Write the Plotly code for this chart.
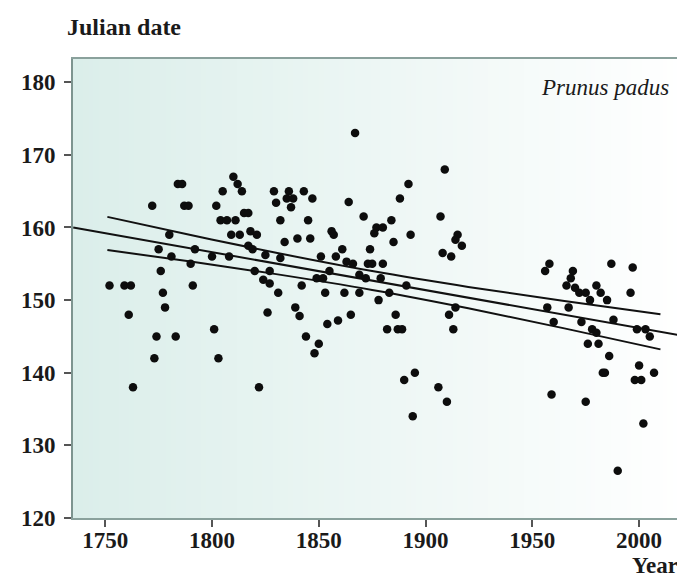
import plotly.graph_objects as go

# ---- data ----
years = [1784, 1786, 1772, 1787, 1789, 1802, 1805, 1810, 1812, 1814, 1815, 1817,
         1804, 1807, 1811, 1809, 1813, 1780, 1775, 1781, 1792, 1800, 1808, 1790,
         1776, 1752, 1759, 1762, 1791, 1777, 1778, 1761, 1801, 1774, 1783, 1773,
         1803, 1763,
         1867, 1892, 1888, 1864, 1829, 1836, 1843, 1835, 1838, 1830, 1837, 1847,
         1832, 1845, 1871, 1884, 1877, 1880, 1876, 1893, 1885, 1856, 1857, 1818,
         1821, 1834, 1840, 1846, 1817, 1819, 1825, 1832, 1851, 1858, 1861, 1874,
         1863, 1866, 1873, 1875, 1880, 1820, 1827, 1824, 1827, 1849, 1852, 1855,
         1869, 1872, 1879, 1891, 1831, 1842, 1853, 1862, 1869, 1878, 1839, 1883,
         1826, 1841, 1854, 1859, 1865, 1886, 1882, 1887, 1889, 1844, 1850, 1848,
         1822, 1895, 1890, 1894,
         1909, 1907, 1915, 1914, 1917, 1908, 1912, 1914, 1911, 1913, 1906, 1910,
         1958, 1956, 1969, 1968, 1966, 1970, 1972, 1975, 1987, 1997, 1980, 1982,
         1985, 1977, 1996, 1957, 1967, 1988, 1960, 1973, 1978, 1980, 1999, 2003,
         2005, 1976, 1981, 1986, 1983, 1984, 2000, 2007, 1998, 2001, 1959, 1975,
         2002, 1990]
julian = [166, 166, 163, 163, 163, 163, 165, 167, 166, 165, 162, 162,
          161, 161, 161, 159, 159, 159, 157, 156, 157, 156, 156, 155,
          154, 152, 152, 152, 152, 151, 149, 148, 146, 145, 145, 142,
          142, 138,
          173, 166, 164, 163.5, 165, 165, 165, 164, 164, 163.4, 162.8, 164,
          161, 161, 161.5, 161, 160, 160, 159.2, 159, 158, 159.5, 159, 159.5,
          159, 158, 158.5, 158.5, 157.5, 157, 156.2, 155.8, 156, 156, 157, 157,
          155.3, 155, 155, 155, 155, 154, 154, 152.8, 152.3, 153, 153, 154,
          153.5, 153, 153, 152, 151, 152, 151, 151, 151, 150, 149, 151,
          148.3, 147.8, 146.7, 147.2, 148, 148, 146, 146, 146, 145, 144, 142.7,
          138, 140, 139, 134,
          168, 161.5, 159, 158.3, 157.5, 156.5, 156, 149, 148, 146, 138, 136,
          155, 154, 154, 153, 152, 151.7, 151, 151, 155, 154.5, 152, 151,
          150, 150, 151, 149, 149, 147.3, 147, 147, 146, 145.5, 146, 146,
          145, 144, 144, 142.3, 140, 140, 141, 140, 139, 139, 137, 136,
          133, 126.5]

trend_years = [1735, 2023]
trend_values = [160.0, 144.95]

ci_years = [1751, 1790, 1830, 1875, 1920, 1965, 2010]
ci_upper = [161.46, 158.97, 156.52, 154.0, 151.82, 149.87, 148.06]
ci_lower = [156.90, 155.31, 153.58, 151.4, 148.88, 146.11, 143.22]

y_ticks = [120, 130, 140, 150, 160, 170, 180]
x_ticks = [1750, 1800, 1850, 1900, 1950, 2000]

# ---- figure ----
W, H = 685, 581
L, R, T, B = 65, 3, 51, 71
pw, ph = W - L - R, H - T - B

fig = go.Figure()

for yy in (ci_upper, ci_lower):
    fig.add_trace(go.Scatter(x=ci_years, y=yy, mode="lines",
                             line=dict(color="#111111", width=2, shape="spline"),
                             hoverinfo="skip", showlegend=False))
fig.add_trace(go.Scatter(x=trend_years, y=trend_values, mode="lines",
                         line=dict(color="#111111", width=2),
                         hoverinfo="skip", showlegend=False))
fig.add_trace(go.Scatter(x=years, y=julian, mode="markers",
                         marker=dict(color="#0d0d0d", size=8.5, line=dict(width=0)),
                         showlegend=False))

# gradient background (teal -> white)
N = 120
c0 = (219, 238, 234)
c1 = (255, 255, 255)
shapes = []
for i in range(N):
    t = i / (N - 1)
    col = tuple(round(a + (b - a) * t) for a, b in zip(c0, c1))
    shapes.append(dict(type="rect", xref="paper", yref="paper",
                       x0=i / N, x1=(i + 1) / N + 0.002, y0=0, y1=1,
                       fillcolor="rgb(%d,%d,%d)" % col, line=dict(width=0),
                       layer="below"))

font_b = dict(family="Liberation Serif", size=23, color="#1a1a1a", weight="bold")

fig.update_layout(
    width=W, height=H,
    margin=dict(l=L, r=R, t=T, b=B, pad=0),
    paper_bgcolor="white",
    plot_bgcolor="rgba(0,0,0,0)",
    shapes=shapes,
    xaxis=dict(range=[1734.9, 2022.9], tickvals=x_ticks, ticks="outside",
               ticklen=7, tickwidth=1.5, tickcolor="#555555",
               ticklabelstandoff=-7,
               showgrid=False, zeroline=False, showline=True, mirror=True,
               linecolor="#8aa19c", linewidth=2, tickfont=font_b),
    yaxis=dict(range=[120, 183.2], tickvals=y_ticks, ticks="outside",
               ticklen=7, tickwidth=1.5, tickcolor="#555555",
               ticklabelstandoff=4,
               showgrid=False, zeroline=False, showline=True, mirror=True,
               linecolor="#7d948f", linewidth=2, tickfont=font_b),
    annotations=[
        dict(text="Julian date", xref="paper", yref="paper",
             x=-8 / pw, y=(H - B - 19) / ph, xanchor="left", yanchor="middle",
             showarrow=False, font=dict(font_b, size=24)),
        dict(text="Year", xref="paper", yref="paper",
             x=(674 - L) / pw, y=(H - B - 557) / ph, xanchor="right", yanchor="middle",
             showarrow=False, font=font_b),
        dict(text="<i>Prunus padus</i>", xref="paper", yref="paper",
             x=(665 - L) / pw, y=(H - B - 80) / ph, xanchor="right", yanchor="middle",
             showarrow=False,
             font=dict(family="Liberation Serif", size=23, color="#1a1a1a")),
    ],
)

fig.write_html("out.html")
